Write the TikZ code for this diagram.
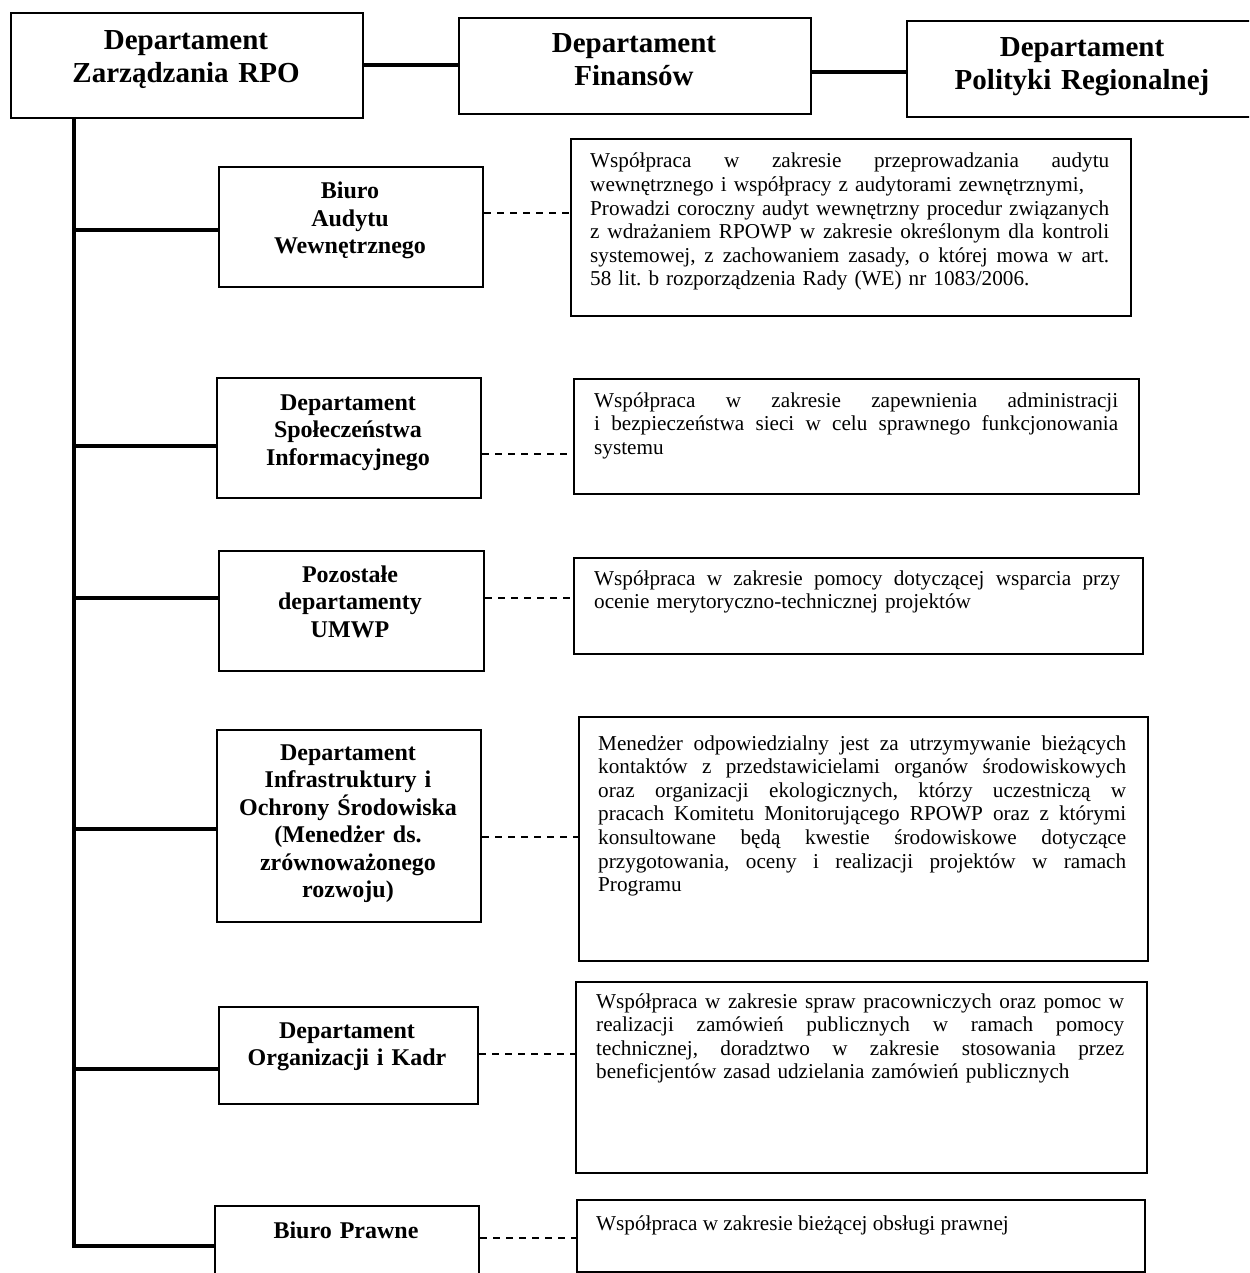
\documentclass[tikz,border=0pt]{standalone}
\usepackage{fontspec}
\setmainfont{Liberation Serif}
\setlength{\parindent}{0pt}
\frenchspacing
\newlength{\jw}
\newcommand{\jl}[1]{\noindent\hbox to \jw{\spaceskip=0.25em plus 2em minus 0.08em\relax #1}\par}
\newcommand{\nl}[1]{\noindent\hbox{#1}\par}
\tikzset{
  topbox/.style={draw, line width=2pt, inner sep=0pt, anchor=north west},
  leftbox/.style={draw, line width=2pt, inner sep=0pt, anchor=north west},
  rightbox/.style={draw, line width=1.8pt, inner sep=0pt, anchor=north west},
  toptext/.style={inner sep=0pt, anchor=base, text width=340pt, align=center, font=\fontsize{29}{33}\selectfont\bfseries},
  lefttext/.style={inner sep=0pt, anchor=base, text width=255pt, align=center, font=\fontsize{24}{27.5}\selectfont\bfseries},
  righttext/.style={inner sep=0pt, anchor=base west, font=\fontsize{21.2}{23.6}\selectfont},
  thickline/.style={line width=4.5pt},
  dashline/.style={line width=1.6pt, dash pattern=on 7pt off 6pt}
}
\begin{document}
\begin{tikzpicture}[x=1pt,y=-1pt]
\useasboundingbox (0,0) rectangle (1249,1273);
\clip (0,0) rectangle (1249,1273);

% top row
\node[topbox, minimum width=352pt, minimum height=105pt] (A) at (10,12) {};
\node[toptext] (tA) at (186,50) {Departament\\Zarządzania RPO};
\node[topbox, minimum width=352pt, minimum height=96pt] (B) at (458,17) {};
\node[toptext] (tB) at (634,53) {Departament\\Finansów};
\node[topbox, minimum width=352pt, minimum height=96pt] (C) at (906,20) {};
\node[toptext] (tC) at (1082,57) {Departament\\Polityki Regionalnej};

\coordinate (ab) at (0,65);
\coordinate (bc) at (0,72);
\draw[thickline] (A.east |- ab) -- (B.west |- ab);
\draw[thickline] (B.east |- bc) -- (C.west |- bc);

% left boxes
\node[leftbox, minimum width=264pt, minimum height=120pt] (b1) at (218,166) {};
\node[lefttext] (tb1) at (350,199) {Biuro\\Audytu\\Wewnętrznego};
\node[leftbox, minimum width=264pt, minimum height=120pt] (b2) at (216,377) {};
\node[lefttext] (tb2) at (348,410) {Departament\\Społeczeństwa\\Informacyjnego};
\node[leftbox, minimum width=265pt, minimum height=120pt] (b3) at (218,550) {};
\node[lefttext] (tb3) at (350,582) {Pozostałe\\departamenty\\UMWP};
\node[leftbox, minimum width=264pt, minimum height=192pt] (b4) at (216,729) {};
\node[lefttext] (tb4) at (348,760) {Departament\\Infrastruktury i\\Ochrony Środowiska\\(Menedżer ds.\\zrównoważonego\\rozwoju)};
\node[leftbox, minimum width=259pt, minimum height=97pt] (b5) at (218,1006) {};
\node[lefttext] (tb5) at (347,1038) {Departament\\Organizacji i Kadr};
\node[leftbox, minimum width=264pt, minimum height=110pt] (b6) at (214,1205) {};
\node[lefttext] (tb6) at (346,1238) {Biuro Prawne};

% trunk and branches
\coordinate (top) at (74,117);
\coordinate (j1) at (74,230);
\coordinate (j2) at (74,446);
\coordinate (j3) at (74,598);
\coordinate (j4) at (74,829);
\coordinate (j5) at (74,1069);
\coordinate (j6) at (74,1246);
\draw[thickline] (top) -- ([yshift=-2.25pt]j6);
\draw[thickline] (j1) -- (b1.west |- j1);
\draw[thickline] (j2) -- (b2.west |- j2);
\draw[thickline] (j3) -- (b3.west |- j3);
\draw[thickline] (j4) -- (b4.west |- j4);
\draw[thickline] (j5) -- (b5.west |- j5);
\draw[thickline] ([xshift=-2.25pt]j6) -- (b6.west |- j6);

% right boxes
\node[rightbox, minimum width=560pt, minimum height=177pt] (r1) at (570,138) {};
\node[righttext, text width=519pt] (tr1) at (590,168) {\setlength{\jw}{519pt}%
\jl{Współpraca w zakresie przeprowadzania audytu}
\nl{wewnętrznego i współpracy z audytorami zewnętrznymi,}
\jl{Prowadzi coroczny audyt wewnętrzny procedur związanych}
\jl{z wdrażaniem RPOWP w zakresie określonym dla kontroli}
\jl{systemowej, z zachowaniem zasady, o której mowa w art.}
\nl{58 lit. b rozporządzenia Rady (WE) nr 1083/2006.}};

\node[rightbox, minimum width=565pt, minimum height=115pt] (r2) at (573,378) {};
\node[righttext, text width=524pt] (tr2) at (594,407) {\setlength{\jw}{524pt}%
\jl{Współpraca w zakresie zapewnienia administracji}
\jl{i bezpieczeństwa sieci w celu sprawnego funkcjonowania}
\nl{systemu}};

\node[rightbox, minimum width=569pt, minimum height=96pt] (r3) at (573,557) {};
\node[righttext, text width=526pt] (tr3) at (594,585) {\setlength{\jw}{526pt}%
\jl{Współpraca w zakresie pomocy dotyczącej wsparcia przy}
\nl{ocenie merytoryczno-technicznej projektów}};

\node[rightbox, minimum width=569pt, minimum height=244pt] (r4) at (578,716) {};
\node[righttext, text width=528pt] (tr4) at (598,750) {\setlength{\jw}{528pt}%
\jl{Menedżer odpowiedzialny jest za utrzymywanie bieżących}
\jl{kontaktów z przedstawicielami organów środowiskowych}
\jl{oraz organizacji ekologicznych, którzy uczestniczą w}
\jl{pracach Komitetu Monitorującego RPOWP oraz z którymi}
\jl{konsultowane będą kwestie środowiskowe dotyczące}
\jl{przygotowania, oceny i realizacji projektów w ramach}
\nl{Programu}};

\node[rightbox, minimum width=571pt, minimum height=191pt] (r5) at (575,981) {};
\node[righttext, text width=528pt] (tr5) at (596,1008) {\setlength{\jw}{528pt}%
\jl{Współpraca w zakresie spraw pracowniczych oraz pomoc w}
\jl{realizacji zamówień publicznych w ramach pomocy}
\jl{technicznej, doradztwo w zakresie stosowania przez}
\nl{beneficjentów zasad udzielania zamówień publicznych}};

\node[rightbox, minimum width=568pt, minimum height=72pt] (r6) at (576,1199) {};
\node[righttext] (tr6) at (596,1230) {Współpraca w zakresie bieżącej obsługi prawnej};

% dashed links
\coordinate (d1) at (0,213);
\coordinate (d2) at (0,454);
\coordinate (d3) at (0,598);
\coordinate (d4) at (0,837);
\coordinate (d5) at (0,1054);
\coordinate (d6) at (0,1238);
\draw[dashline] (b1.east |- d1) -- (r1.west |- d1);
\draw[dashline] (b2.east |- d2) -- (r2.west |- d2);
\draw[dashline] (b3.east |- d3) -- (r3.west |- d3);
\draw[dashline] (b4.east |- d4) -- (r4.west |- d4);
\draw[dashline] (b5.east |- d5) -- (r5.west |- d5);
\draw[dashline] (b6.east |- d6) -- (r6.west |- d6);
\end{tikzpicture}
\end{document}
